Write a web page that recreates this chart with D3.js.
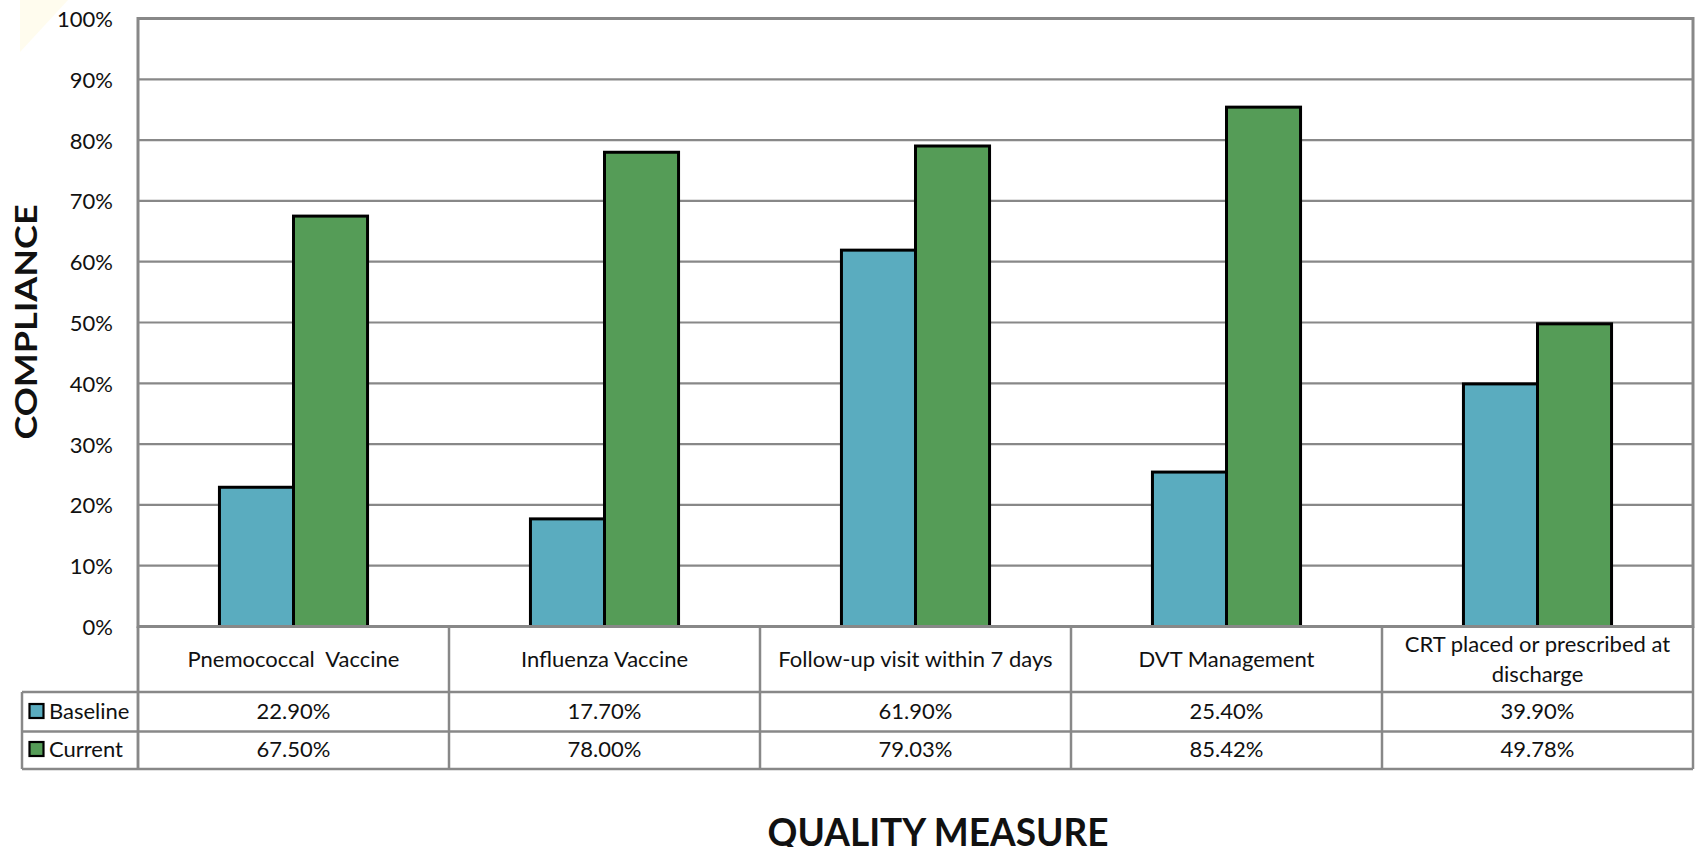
<!DOCTYPE html>
<html>
<head>
<meta charset="utf-8">
<script src="https://cdn.jsdelivr.net/npm/d3@7"></script>
<style>
  html, body { margin: 0; padding: 0; background: #fff; }
  svg { display: block; }
  text { font-family: Lato, "Open Sans", sans-serif; fill: #111; white-space: pre; }
</style>
</head>
<body>
<svg id="chart" width="1696" height="847"></svg>
<script>
// Quality measures and compliance rates (fractions of 1)
const categories = [
  "Pnemococcal  Vaccine",
  "Influenza Vaccine",
  "Follow-up visit within 7 days",
  "DVT Management",
  "CRT placed or prescribed at\ndischarge"
];
const seriesNames = ["Baseline", "Current"];
const baselineValues = [0.229, 0.177, 0.619, 0.254, 0.399];
const currentValues = [0.675, 0.78, 0.7903, 0.8542, 0.4978];
const yTicks = [0, 0.1, 0.2, 0.3, 0.4, 0.5, 0.6, 0.7, 0.8, 0.9, 1.0];

const colors = { Baseline: "#5aacbf", Current: "#559c57" };
const gridColor = "#888888";
const SY = 1.0;      // vertical stretch applied to the text glyphs
const FS = 22;       // body font size

const svg = d3.select("#chart");

// faint cream mark in the top-left corner
svg.append("polygon")
  .attr("points", "20,0 68,0 20,52")
  .attr("fill", "#fffbea")
  .attr("opacity", 0.8);

const plot = { left: 138, right: 1693, top: 18.5, bottom: 626.5 };
const table = { legendLeft: 22, headerBottom: 692, row1Bottom: 731.5, row2Bottom: 769 };

const x = d3.scaleBand().domain(d3.range(categories.length)).range([plot.left, plot.right]).padding(0);
const xs = d3.scaleBand().domain(seriesNames).range([0, x.bandwidth()]).paddingInner(0).paddingOuter(1.1);
const y = d3.scaleLinear().domain([0, 1]).range([plot.bottom, plot.top]);

// helper: text with stretched glyphs
function label(g, tx, ty, str, opts = {}) {
  return g.append("text")
    .attr("transform", `translate(${tx},${ty}) scale(1,${opts.sy || SY})${opts.rotate ? " rotate(" + opts.rotate + ")" : ""}`)
    .attr("text-anchor", opts.anchor || "middle")
    .attr("font-size", opts.size || FS)
    .attr("font-weight", opts.weight || "normal")
    .text(str);
}

// horizontal gridlines
svg.append("g").selectAll("line")
  .data(yTicks.slice(1, -1))
  .join("line")
  .attr("x1", plot.left).attr("x2", plot.right)
  .attr("y1", d => y(d)).attr("y2", d => y(d))
  .attr("stroke", gridColor).attr("stroke-width", 2.2);

// y-axis labels via d3 axis (domain/ticks hidden, labels restyled)
const yAxis = svg.append("g")
  .attr("transform", `translate(${plot.left},0)`)
  .call(d3.axisLeft(y).tickValues(yTicks).tickFormat(d3.format(".0%")).tickSize(0).tickPadding(25));
yAxis.select(".domain").remove();
yAxis.selectAll("text").remove();
yAxis.selectAll(".tick").each(function(d) {
  label(d3.select(this), -25, 8, d3.format(".0%")(d), { anchor: "end" });
});

// bars
const rows = seriesNames.map(name => ({ name, values: name === "Baseline" ? baselineValues : currentValues }));
const barG = svg.append("g");
rows.forEach(s => {
  barG.selectAll(null)
    .data(s.values)
    .join("rect")
    .attr("x", (d, i) => x(i) + xs(s.name))
    .attr("y", d => y(d))
    .attr("width", xs.bandwidth())
    .attr("height", d => y(0) - y(d))
    .attr("fill", colors[s.name])
    .attr("stroke", "#000")
    .attr("stroke-width", 3);
});

// plot border
svg.append("rect")
  .attr("x", plot.left).attr("y", plot.top)
  .attr("width", plot.right - plot.left).attr("height", plot.bottom - plot.top)
  .attr("fill", "none").attr("stroke", gridColor).attr("stroke-width", 3);

// data table beneath the plot
const tg = svg.append("g");
const tline = (x1, y1, x2, y2) => tg.append("line")
  .attr("x1", x1).attr("y1", y1).attr("x2", x2).attr("y2", y2)
  .attr("stroke", gridColor).attr("stroke-width", 2.5);

x.domain().forEach(i => tline(x(i), plot.bottom, x(i), table.row2Bottom));
tline(plot.right, plot.bottom, plot.right, table.row2Bottom);
tline(table.legendLeft, table.headerBottom, plot.right, table.headerBottom);
tline(table.legendLeft, table.row1Bottom, plot.right, table.row1Bottom);
tline(table.legendLeft, table.row2Bottom, plot.right, table.row2Bottom);
tline(table.legendLeft, table.headerBottom, table.legendLeft, table.row2Bottom);
tline(plot.left, plot.bottom, plot.left, table.row2Bottom);

// category headers
categories.forEach((c, i) => {
  const lines = c.split("\n");
  const cx = x(i) + x.bandwidth() / 2;
  const base = lines.length === 1 ? 667 : 652;
  lines.forEach((ln, k) => label(tg, cx, base + k * 30, ln));
});

// value rows with legend keys
const pct = d3.format(".2%");
const rowBase = [719, 757];
rows.forEach((s, r) => {
  tg.append("rect")
    .attr("x", 29.5).attr("y", rowBase[r] - 15)
    .attr("width", 14).attr("height", 14)
    .attr("fill", colors[s.name]).attr("stroke", "#000").attr("stroke-width", 2.2);
  label(tg, 49, rowBase[r], s.name, { anchor: "start" });
  s.values.forEach((v, i) => label(tg, x(i) + x.bandwidth() / 2, rowBase[r], pct(v)));
});

// axis titles
label(svg, 37, 322, "COMPLIANCE", { weight: "bold", size: 30, sy: 1.2, rotate: -90 });
label(svg, 938, 846, "QUALITY MEASURE", { weight: "bold", size: 37, sy: 1.05 });
</script>
</body>
</html>
